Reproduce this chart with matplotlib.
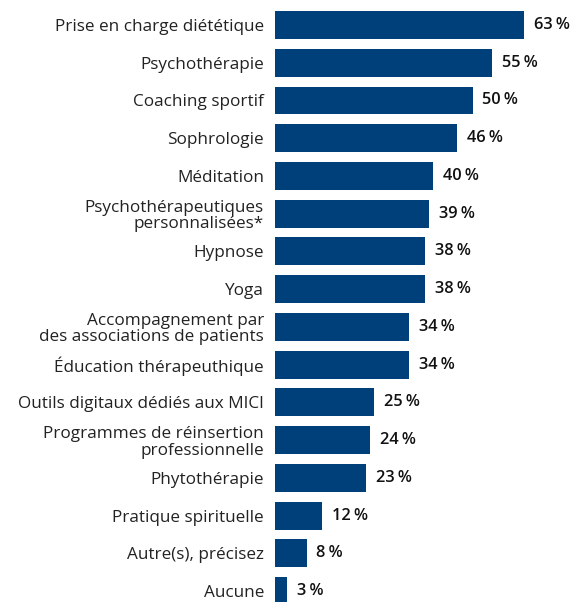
import matplotlib
matplotlib.use("Agg")
import matplotlib.pyplot as plt

plt.rcParams['font.family'] = ['Open Sans', 'DejaVu Sans']

categories = [
    "Prise en charge diététique",
    "Psychothérapie",
    "Coaching sportif",
    "Sophrologie",
    "Méditation",
    "Psychothérapeutiques\npersonnalisées*",
    "Hypnose",
    "Yoga",
    "Accompagnement par\ndes associations de patients",
    "Éducation thérapeuthique",
    "Outils digitaux dédiés aux MICI",
    "Programmes de réinsertion\nprofessionnelle",
    "Phytothérapie",
    "Pratique spirituelle",
    "Autre(s), précisez",
    "Aucune",
]
values = [63, 55, 50, 46, 40, 39, 38, 38, 34, 34, 25, 24, 23, 12, 8, 3]

color = "#00407a"

fig = plt.figure(figsize=(5.7, 6.02), dpi=100)
ax = fig.add_axes([0.4825, -0.0131, 0.5175, 1.0029])

pos = list(range(len(values)))
bars = ax.barh(pos, values, height=0.74, color=color)
ax.set_ylim(len(values) - 0.5, -0.5)
ax.set_xlim(0, 74.6)

ax.set_yticks(pos)
ax.set_yticklabels(categories, fontsize=12.3, color="#222222", linespacing=1.05)
ax.tick_params(axis="y", length=0, pad=8)
ax.set_xticks([])
for s in ax.spines.values():
    s.set_visible(False)

ax.bar_label(bars, labels=[f"{v}\u2009%" for v in values], padding=7,
             fontsize=11.8, fontweight="semibold", color="#111111")

fig.savefig("out.png", dpi=100)
